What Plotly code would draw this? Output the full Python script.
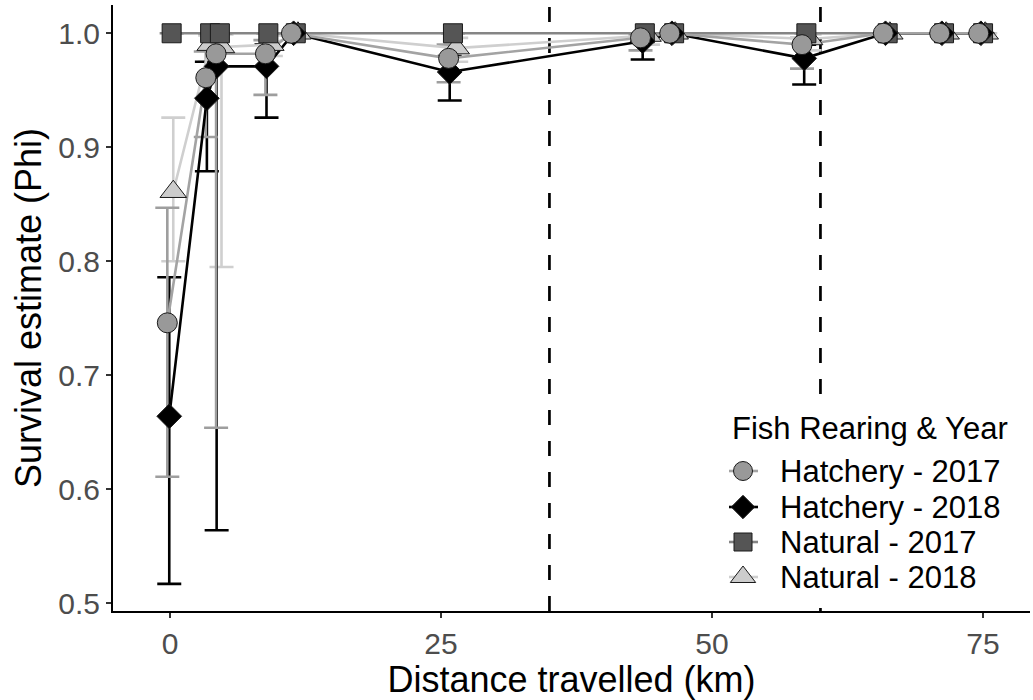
import plotly.graph_objects as go

# Survival estimates (Phi) with 95% CI by distance travelled, per rearing type and year
groups = ["Hatchery - 2017", "Hatchery - 2018", "Natural - 2017", "Natural - 2018"]

dist_h17 = [-0.25, 3.3, 4.25, 8.8, 11.2, 25.7, 43.4, 46.1, 58.3, 65.8, 71.0, 74.6]
phi_h17 = [0.746, 0.961, 0.982, 0.982, 1.0, 0.978, 0.996, 1.0, 0.990, 1.0, 1.0, 1.0]
lcl_h17 = [0.611, 0.909, 0.654, 0.946, 1.0, 0.957, 0.985, 1.0, 0.969, 1.0, 1.0, 1.0]
ucl_h17 = [0.847, 0.984, 0.995, 0.994, 1.0, 0.990, 0.999, 1.0, 0.996, 1.0, 1.0, 1.0]

dist_h18 = [-0.07, 3.4, 4.3, 8.9, 11.4, 25.8, 43.6, 46.3, 58.5, 66.0, 71.2, 74.8]
phi_h18 = [0.664, 0.943, 0.971, 0.971, 1.0, 0.966, 0.993, 1.0, 0.978, 1.0, 1.0, 1.0]
lcl_h18 = [0.517, 0.879, 0.564, 0.926, 1.0, 0.941, 0.977, 1.0, 0.955, 1.0, 1.0, 1.0]
ucl_h18 = [0.786, 0.975, 0.995, 0.990, 1.0, 0.980, 0.998, 1.0, 0.990, 1.0, 1.0, 1.0]

dist_n17 = [0.15, 3.7, 4.6, 9.07, 11.6, 26.1, 43.8, 46.5, 58.7, 66.2, 71.4, 75.0]
phi_n17 = [1.0, 1.0, 1.0, 1.0, 1.0, 1.0, 1.0, 1.0, 1.0, 1.0, 1.0, 1.0]
lcl_n17 = [1.0, 1.0, 1.0, 1.0, 1.0, 1.0, 1.0, 1.0, 1.0, 1.0, 1.0, 1.0]
ucl_n17 = [1.0, 1.0, 1.0, 1.0, 1.0, 1.0, 1.0, 1.0, 1.0, 1.0, 1.0, 1.0]

dist_n18 = [0.3, 3.7, 4.75, 9.3, 11.8, 26.4, 44.1, 46.6, 59.0, 66.4, 71.6, 75.2]
phi_n18 = [0.861, 0.990, 0.988, 0.990, 1.0, 0.987, 0.998, 1.0, 0.995, 1.0, 1.0, 1.0]
lcl_n18 = [0.800, 0.975, 0.795, 0.980, 1.0, 0.975, 0.990, 1.0, 0.985, 1.0, 1.0, 1.0]
ucl_n18 = [0.926, 0.998, 0.999, 0.998, 1.0, 0.996, 1.0, 1.0, 0.999, 1.0, 1.0, 1.0]

x_ticks = [0, 25, 50, 75]
y_ticks = [0.5, 0.6, 0.7, 0.8, 0.9, 1.0]
ref_lines = [35, 60]

legend_title = "Fish Rearing & Year"

X_RANGE = [-5.26, 79.33]
Y_RANGE = [0.4932, 1.0248]

series = {
    "Hatchery - 2017": (dist_h17, phi_h17, lcl_h17, ucl_h17),
    "Hatchery - 2018": (dist_h18, phi_h18, lcl_h18, ucl_h18),
    "Natural - 2017": (dist_n17, phi_n17, lcl_n17, ucl_n17),
    "Natural - 2018": (dist_n18, phi_n18, lcl_n18, ucl_n18),
}

style = {
    "Hatchery - 2017": dict(line="#a3a3a3", bar="#9e9e9e", fill="#999999", symbol="circle", size=20),
    "Hatchery - 2018": dict(line="#000000", bar="#000000", fill="#000000", symbol="diamond", size=19),
    "Natural - 2017": dict(line="#858585", bar="#858585", fill="#555555", symbol="square", size=19),
    "Natural - 2018": dict(line="#cfcfcf", bar="#cfcfcf", fill="#cccccc", symbol="triangle-up", size=23),
}

# drawing order: later groups sit on top
draw_order = ["Natural - 2018", "Natural - 2017", "Hatchery - 2018", "Hatchery - 2017"]

MARKER_EDGE = dict(color="#1a1a1a", width=1)

fig = go.Figure()

# vertical reference lines (full panel height, dashes start at the bottom)
for xv in ref_lines:
    fig.add_trace(go.Scatter(x=[xv, xv], y=Y_RANGE, mode="lines",
                             line=dict(color="black", width=2.7, dash="15px,16px"),
                             showlegend=False, hoverinfo="skip"))

# error bars layer
for g in draw_order:
    d, p, lo, hi = series[g]
    s = style[g]
    fig.add_trace(go.Scatter(
        x=d, y=p, mode="markers", marker=dict(size=0.1, opacity=0),
        error_y=dict(type="data", symmetric=False,
                     array=[h - v for h, v in zip(hi, p)],
                     arrayminus=[v - l for v, l in zip(p, lo)],
                     color=s["bar"], thickness=2.6, width=12),
        showlegend=False, hoverinfo="skip"))

# lines layer
for g in draw_order:
    d, p, lo, hi = series[g]
    s = style[g]
    fig.add_trace(go.Scatter(x=d, y=p, mode="lines",
                             line=dict(color=s["line"], width=2.6),
                             showlegend=False, hoverinfo="skip"))

# points layer
for g in draw_order:
    d, p, lo, hi = series[g]
    s = style[g]
    fig.add_trace(go.Scatter(x=d, y=p, mode="markers", name=g,
                             marker=dict(symbol=s["symbol"], size=s["size"], color=s["fill"],
                                         line=MARKER_EDGE),
                             showlegend=False))

# legend drawn on an overlay axis measured in pixels of the plotting panel
PANEL_L, PANEL_R, PANEL_T, PANEL_B = 113, 1030, 5, 611
box = (716, 1030, 404, 608)  # left, right, top, bottom
key_x0, key_xc, key_x1, label_x = 729, 743, 758, 778
title_pos = (730, 428)
row_y = [471, 507, 542, 577]

# white legend background
fig.add_trace(go.Scatter(x=[box[0], box[1], box[1], box[0], box[0]],
                         y=[box[2], box[2], box[3], box[3], box[2]],
                         mode="lines", fill="toself", fillcolor="white",
                         line=dict(width=0, color="white"),
                         xaxis="x2", yaxis="y2", showlegend=False, hoverinfo="skip"))

for g, ry in zip(groups, row_y):
    s = style[g]
    fig.add_trace(go.Scatter(x=[key_x0, key_x1], y=[ry, ry], mode="lines",
                             line=dict(color=s["line"], width=2.6),
                             xaxis="x2", yaxis="y2", showlegend=False, hoverinfo="skip"))
    fig.add_trace(go.Scatter(x=[key_xc], y=[ry], mode="markers",
                             marker=dict(symbol=s["symbol"], size=s["size"] - 1, color=s["fill"],
                                         line=MARKER_EDGE),
                             xaxis="x2", yaxis="y2", showlegend=False, hoverinfo="skip"))
    fig.add_annotation(x=label_x, y=ry, xref="x2", yref="y2", text=g, showarrow=False,
                       xanchor="left", yanchor="middle",
                       font=dict(size=31, color="black"))

fig.add_annotation(x=title_pos[0], y=title_pos[1], xref="x2", yref="y2", text=legend_title,
                   showarrow=False, xanchor="left", yanchor="middle",
                   font=dict(size=31, color="black"))

fig.update_layout(
    width=1033, height=700,
    margin=dict(l=PANEL_L, r=1033 - PANEL_R, t=PANEL_T, b=700 - PANEL_B),
    plot_bgcolor="white", paper_bgcolor="white",
    font=dict(family="Liberation Sans, Arial, sans-serif", color="black"),
    showlegend=False,
    xaxis=dict(
        range=X_RANGE, tickvals=x_ticks, ticktext=[str(v) for v in x_ticks],
        showgrid=False, zeroline=False, showline=True, linecolor="black", linewidth=2,
        ticks="outside", ticklen=5, tickwidth=1.5, tickcolor="#333333",
        tickfont=dict(size=30, color="#4d4d4d"),
        title=dict(text="Distance travelled (km)", font=dict(size=36, color="black"), standoff=3),
    ),
    yaxis=dict(
        range=Y_RANGE, tickvals=y_ticks, ticktext=[f"{v:.1f}" for v in y_ticks],
        showgrid=False, zeroline=False, showline=True, linecolor="black", linewidth=2,
        ticks="outside", ticklen=5, tickwidth=1.5, tickcolor="#333333",
        tickfont=dict(size=30, color="#4d4d4d"),
        title=dict(text="Survival estimate (Phi)", font=dict(size=36, color="black"), standoff=6),
    ),
    xaxis2=dict(overlaying="x", range=[PANEL_L, PANEL_R], visible=False, fixedrange=True),
    yaxis2=dict(overlaying="y", range=[PANEL_B, PANEL_T], visible=False, fixedrange=True),
)

fig.write_html("out.html")
